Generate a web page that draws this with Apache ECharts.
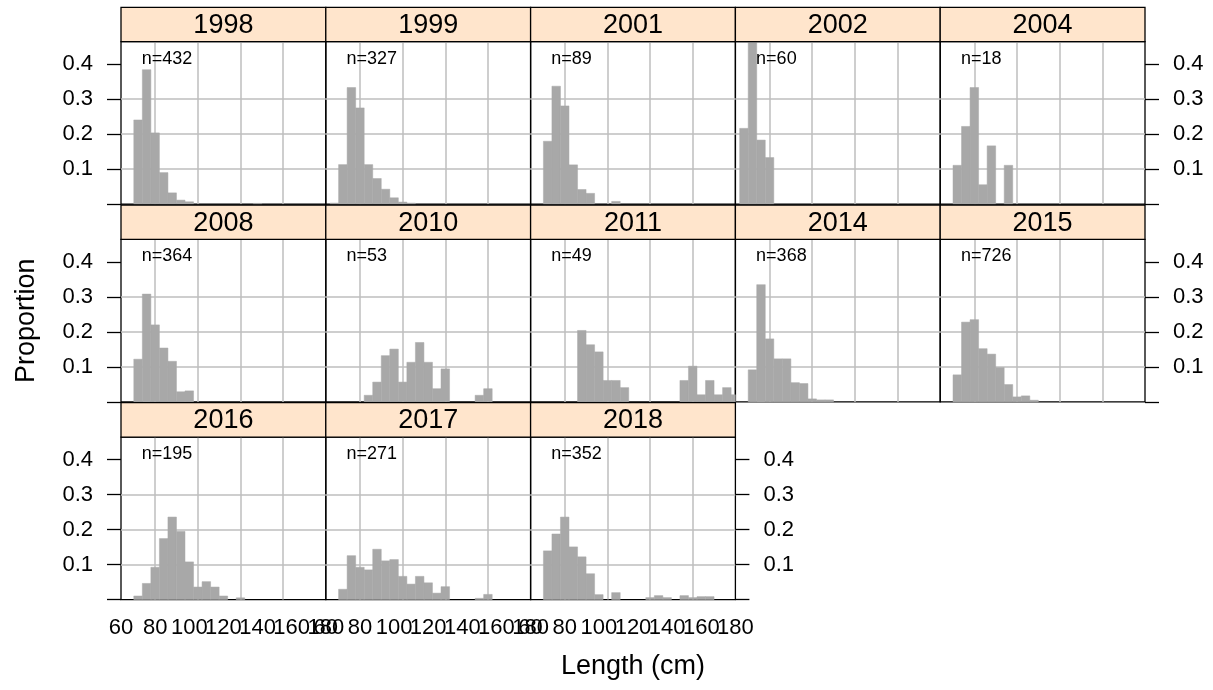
<!DOCTYPE html>
<html><head><meta charset="utf-8">
<script src="https://cdn.jsdelivr.net/npm/echarts@6/dist/echarts.min.js"></script>
<style>html,body{margin:0;padding:0;background:#fff}#c{width:1213px;height:690px}</style>
</head><body><div id="c"></div>
<script>
// ---- data ----
const years = ['1998','1999','2001','2002','2004','2008','2010','2011','2014','2015','2016','2017','2018'];
const nFish = [432,327,89,60,18,364,53,49,368,726,195,271,352];
// length-bin centres (cm), 5 cm wide bins
const bins = [65,70,75,80,85,90,95,100,105,110,115,120,125,130,135,140,145,150,155,160,165,170,175,180];
const xTickLabels = [60,80,100,120,140,160,180];
const yTickLabels = [0.1,0.2,0.3,0.4];
// vertical reference lines: every 25 cm starting at 55 (shown: 80,105,130,155)
const xGridStart = 55, xGridStep = 25;

const p1998 = [0,.2407,.3843,.2037,.0903,.0324,.0116,.0069,0,0,0,0,0,0,0,.0023,0,0,0,0,0,0,0,0];
const p1999 = [.0031,.1131,.3333,.2752,.1131,.0734,.0428,.0183,.0061,.0031,0,0,0,0,0,0,0,0,0,0,0,0,0,0];
const p2001 = [0,.1798,.3371,.2809,.1124,.042,.031,0,0,.008,0,0,0,0,0,0,0,0,0,0,0,0,0,0];
const p2002 = [.2167,.4667,.1833,.1333,0,0,0,0,0,0,0,0,0,0,0,0,0,0,0,0,0,0,0,0];
const p2004 = [0,.1111,.2222,.3333,.0556,.1667,0,.1111,0,0,0,0,0,0,0,0,0,0,0,0,0,0,0,0];
const p2008 = [0,.122,.308,.220,.154,.116,.029,.0315,0,0,0,0,0,0,0,0,0,0,0,0,0,0,0,0];
const p2010 = [0,0,0,0,.0189,.0566,.1321,.1509,.0566,.1132,.1698,.1132,.0377,.0943,0,0,0,.0189,.0377,0,0,0,0,0];
const p2011 = [0,0,0,0,0,.2041,.1633,.1429,.0612,.0612,.0408,0,0,0,0,0,0,.0612,.1020,.0204,.0612,.0204,.0408,.0204];
const p2014 = [0,.0916,.335,.180,.123,.123,.055,.0525,.0086,.0057,.0057,0,0,0,0,0,0,0,0,0,0,0,0,0];
const p2015 = [0,.0773,.228,.235,.152,.1365,.098,.0496,.0143,.0172,.0048,0,0,0,0,0,0,0,0,0,0,0,0,0];
const p2016 = [0,.0103,.0462,.0923,.1744,.2359,.1949,.1077,.0359,.0513,.0359,.0103,0,.0051,0,0,0,0,0,0,0,0,0,0];
const p2017 = [0,.0295,.1255,.0923,.0849,.1439,.1107,.1144,.0664,.0443,.0664,.048,.0185,.0369,0,0,0,.0037,.0148,0,0,0,0,0];
const p2018 = [0,.1392,.1875,.2358,.1506,.1222,.0739,.0142,0,.0199,0,0,0,.0057,.0114,.0057,0,.0114,.0057,.0085,.0085,0,0,0];
const proportions = [p1998,p1999,p2001,p2002,p2004,p2008,p2010,p2011,p2014,p2015,p2016,p2017,p2018];

// ---- layout ----
const FONT = '"Liberation Sans", Arial, Helvetica, sans-serif';
const L0 = 121, PW = 204.8, ROW0 = 7.3, ROWH = 197.7, STRIPH = 34.4, PH = 162.5;
const NCOL = 5;
const YMAX = 0.4643, XMIN = 60, XMAX = 180, BINW = 5;
const GRID_COL = '#bebebe', BAR_COL = '#a8a8a8', STRIP_COL = '#ffe5cc';
const PXCM = PW / (XMAX - XMIN);
const LABEL_EXT = 10; // extra cm on label axis so that the 180 label is a regular tick

const grids = [], xAxes = [], yAxes = [], series = [], graphics = [];
const nPanels = years.length;
const lastRowStart = Math.floor((nPanels - 1) / NCOL) * NCOL;

years.forEach((yr, i) => {
  const r = Math.floor(i / NCOL), c = i % NCOL;
  const x0 = L0 + c * PW;
  const st = ROW0 + r * ROWH;
  const pt = st + STRIPH;
  const bottomRow = i >= lastRowStart;
  const lastInRow = (c === NCOL - 1) || i === nPanels - 1;
  const yLabSide = c === 0 ? 'left' : (lastInRow ? 'right' : null);

  // vertical reference-line grid (same px/cm scale, starts at xGridStart)
  const gj = grids.length;
  grids.push({left: x0 - (XMIN - xGridStart) * PXCM, top: pt, width: (XMAX - xGridStart) * PXCM, height: PH, show: false});
  xAxes.push({
    gridIndex: gj, type: 'value', min: xGridStart, max: XMAX, interval: xGridStep,
    axisLine: {show: false}, axisLabel: {show: false}, axisTick: {show: false},
    splitLine: {show: true, showMinLine: false, showMaxLine: false, lineStyle: {color: GRID_COL, width: 1.5}}
  });
  yAxes.push({gridIndex: gj, type: 'value', min: 0, max: 1, show: false});

  // x tick labels (bottom row only), same px/cm scale
  if (bottomRow) {
    const gl = grids.length;
    grids.push({left: x0, top: pt, width: (XMAX + LABEL_EXT - XMIN) * PXCM, height: PH, show: false});
    xAxes.push({
      gridIndex: gl, type: 'value', min: XMIN, max: XMAX + LABEL_EXT, interval: 20,
      axisLine: {show: false}, axisTick: {show: false}, splitLine: {show: false},
      axisLabel: {show: true, fontSize: 22, color: '#000', fontFamily: FONT, margin: 17,
        showMinLabel: true, showMaxLabel: false, hideOverlap: false,
        formatter: v => (xTickLabels.indexOf(v) >= 0 ? String(v) : '')}
    });
    yAxes.push({gridIndex: gl, type: 'value', min: 0, max: 1, show: false});
  }

  // panel grid
  const gi = grids.length;
  grids.push({left: x0, top: pt, width: PW, height: PH, show: true, borderColor: '#000', borderWidth: 1.3, backgroundColor: 'transparent'});
  xAxes.push({gridIndex: gi, type: 'value', min: XMIN, max: XMAX, show: false});
  yAxes.push({
    gridIndex: gi, type: 'value', min: 0, max: YMAX, interval: 0.1,
    position: yLabSide || 'left',
    axisLine: {show: false},
    axisTick: {show: !!yLabSide, inside: false, length: 14, lineStyle: {color: '#000', width: 1.3},
      customValues: [0].concat(yTickLabels)},
    axisLabel: {show: !!yLabSide, margin: 28, fontSize: 22, color: '#000', fontFamily: FONT,
      customValues: yTickLabels, formatter: v => v.toFixed(1)},
    splitLine: {show: true, showMinLine: false, showMaxLine: false, lineStyle: {color: GRID_COL, width: 1.5}}
  });

  // histogram bars
  const data = bins.map((b, k) => [b, proportions[i][k]]).filter(d => d[1] > 0);
  series.push({
    type: 'custom', xAxisIndex: gi, yAxisIndex: gi, z: 3,
    data: data,
    renderItem: (params, api) => {
      const xc = api.value(0), v = api.value(1);
      const p0 = api.coord([xc - BINW / 2, 0]);
      const p1 = api.coord([xc + BINW / 2, v]);
      const shape = echarts.graphic.clipRectByRect(
        {x: p0[0], y: p1[1], width: p1[0] - p0[0], height: p0[1] - p1[1]},
        {x: params.coordSys.x, y: params.coordSys.y, width: params.coordSys.width, height: params.coordSys.height});
      if (!shape) return;
      return {type: 'rect', shape: shape, style: {fill: BAR_COL, stroke: BAR_COL, lineWidth: 0.5}};
    }
  });

  // strip
  graphics.push({type: 'rect', z: 10, shape: {x: x0, y: st, width: PW, height: STRIPH},
    style: {fill: STRIP_COL, stroke: '#000', lineWidth: 1.3}});
  graphics.push({type: 'text', z: 11, x: x0 + PW / 2, y: st + STRIPH / 2 + 1,
    style: {text: yr, font: '27px ' + FONT, fill: '#000', align: 'center', verticalAlign: 'middle', textAlign: 'center', textVerticalAlign: 'middle'}});
  // n label
  graphics.push({type: 'text', z: 11, x: x0 + 20.7, y: pt + 17,
    style: {text: 'n=' + nFish[i], font: '18px ' + FONT, fill: '#000', align: 'left', verticalAlign: 'middle', textAlign: 'left', textVerticalAlign: 'middle'}});
});

// axis titles
graphics.push({type: 'text', x: 27, y: ROW0 + STRIPH + (2 * ROWH + PH) / 2, rotation: Math.PI / 2,
  style: {text: 'Proportion', font: '27px ' + FONT, fill: '#000', align: 'center', verticalAlign: 'middle', textAlign: 'center', textVerticalAlign: 'middle'}});
graphics.push({type: 'text', x: L0 + NCOL * PW / 2, y: 667,
  style: {text: 'Length (cm)', font: '27px ' + FONT, fill: '#000', align: 'center', verticalAlign: 'middle', textAlign: 'center', textVerticalAlign: 'middle'}});

const chart = echarts.init(document.getElementById('c'), null, {renderer: 'canvas'});
chart.setOption({
  animation: false,
  backgroundColor: '#fff',
  grid: grids, xAxis: xAxes, yAxis: yAxes, series: series,
  graphic: {elements: graphics}
});
</script></body></html>
